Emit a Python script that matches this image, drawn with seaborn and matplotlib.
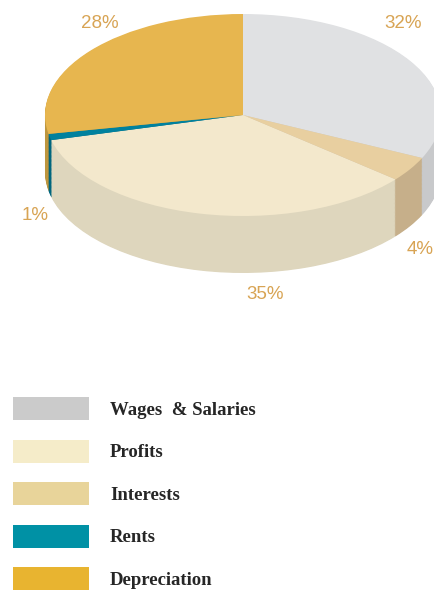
import matplotlib
matplotlib.use("Agg")
import matplotlib.pyplot as plt
import seaborn as sns
from matplotlib.patches import Patch

# ---- data ----
categories = ["Wages  & Salaries", "Interests", "Profits", "Rents", "Depreciation"]
shares = [32, 4, 35, 1, 28]
pct_labels = ["32%", "4%", "35%", "1%", "28%"]
legend_order = ["Wages  & Salaries", "Profits", "Interests", "Rents", "Depreciation"]

# ---- styles ----
top_colors = {"Wages  & Salaries": "#E0E1E3", "Interests": "#E8CFA0",
              "Profits": "#F3E8CC", "Rents": "#00819E", "Depreciation": "#E7B64F"}
side_colors = {"Wages  & Salaries": "#C8C9CB", "Interests": "#C6AF8A",
               "Profits": "#DED6BD", "Rents": "#00667E", "Depreciation": "#BE963E"}
legend_colors = {"Wages  & Salaries": "#CBCBCB", "Interests": "#E8D49A",
                 "Profits": "#F5ECC9", "Rents": "#0091A5", "Depreciation": "#E8B430"}
label_pos = {"Wages  & Salaries": (0.808, 0.905), "Interests": (0.895, -1.33),
             "Profits": (0.111, -1.78), "Rents": (-1.05, -1.0),
             "Depreciation": (-0.722, 0.905)}

sns.set_theme(style="white")
plt.rcParams["font.family"] = ["Liberation Sans", "DejaVu Sans"]

W, H = 435, 590
cx, cy, rx, ry = 243, 115, 198, 101
fig = plt.figure(figsize=(W / 100, H / 100), dpi=100)
fig.patch.set_facecolor("white")
ax = fig.add_axes([0, 0, 1, 1])

depth = 57 / ry
n = 70
wp = dict(linewidth=0, antialiased=True)
for k in range(n, 0, -1):
    off = depth * k / n
    ax.pie(shares, colors=[side_colors[c] for c in categories], startangle=90,
           counterclock=False, center=(0, -off), radius=1, wedgeprops=wp, frame=False)
ax.pie(shares, colors=[top_colors[c] for c in categories], startangle=90,
       counterclock=False, center=(0, 0), radius=1, wedgeprops=wp, frame=False)

ax.set_aspect("auto")
ax.set_xlim(-cx / rx, (W - cx) / rx)
ax.set_ylim(-(H - cy) / ry, cy / ry)
ax.axis("off")

for c, lab in zip(categories, pct_labels):
    x, y = label_pos[c]
    ax.text(x, y, lab, ha="center", va="center", fontsize=13.5, color="#D8A454",
            family=["Liberation Sans", "DejaVu Sans"])

handles = [Patch(facecolor=legend_colors[c], edgecolor="none", linewidth=0) for c in legend_order]
fs = 13.5
px = fs * 100 / 72
box_h = 23
hh = (box_h / px - 0.245) / 0.65
ax.legend(handles, legend_order, loc="upper left",
          bbox_to_anchor=(13 / W, (H - 397) / H), bbox_transform=fig.transFigure,
          frameon=False, borderpad=0, borderaxespad=0,
          handlelength=76 / px, handleheight=hh, handletextpad=21 / px,
          labelspacing=19.6 / px,
          prop=dict(family="Liberation Serif", weight="bold", size=fs))

fig.savefig("out.png", dpi=100, facecolor="white")
